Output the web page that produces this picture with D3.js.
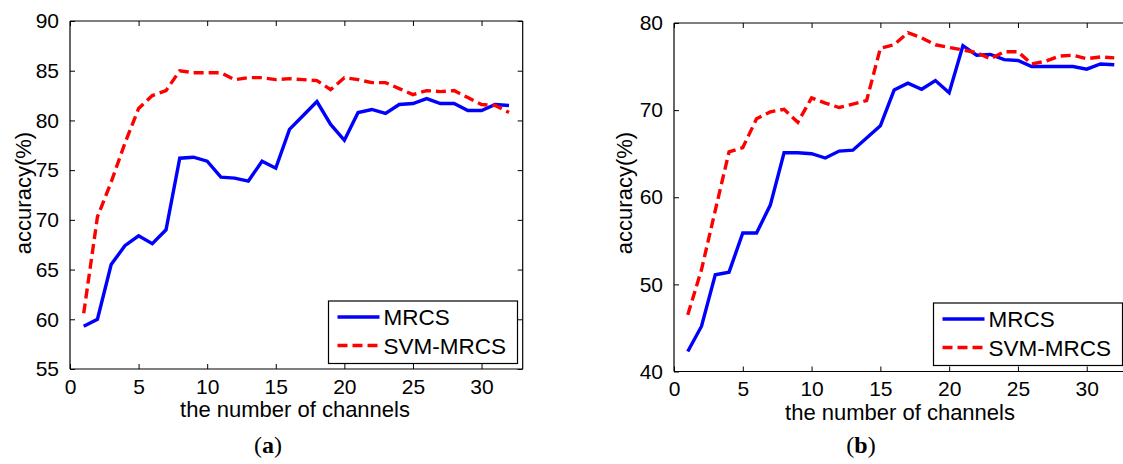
<!DOCTYPE html>
<html>
<head>
<meta charset="utf-8">
<script src="https://cdn.jsdelivr.net/npm/d3@7/dist/d3.min.js"></script>
<style>
  html, body { margin: 0; padding: 0; background: #fff; overflow: hidden; }
  svg { display: block; }
  text { font-family: "Liberation Sans", Arial, sans-serif; fill: #000; }
</style>
</head>
<body>
<svg id="chart" width="1123" height="464"></svg>
<script>
// ---- data ----
const channels = [1,2,3,4,5,6,7,8,9,10,11,12,13,14,15,16,17,18,19,20,21,22,23,24,25,26,27,28,29,30,31,32];
const mrcsA = [59.3,60.0,65.5,67.4,68.4,67.6,69.0,76.2,76.3,75.9,74.3,74.2,73.9,75.9,75.2,79.1,80.5,81.9,79.6,78.0,80.8,81.1,80.7,81.6,81.7,82.2,81.7,81.7,81.0,81.0,81.6,81.5];
const svmA  = [60.6,70.3,73.8,77.7,81.2,82.5,83.0,85.0,84.8,84.8,84.8,84.1,84.3,84.3,84.1,84.2,84.1,84.0,83.1,84.3,84.1,83.8,83.8,83.2,82.6,83.0,82.9,83.0,82.3,81.6,81.5,80.8];
const mrcsB = [42.3,45.2,51.1,51.4,55.9,55.9,59.1,65.1,65.1,65.0,64.5,65.3,65.4,66.8,68.2,72.3,73.1,72.4,73.4,72.0,77.4,76.3,76.4,75.8,75.7,75.0,75.0,75.0,75.0,74.7,75.3,75.2];
const svmB  = [46.5,51.7,58.5,65.2,65.7,69.0,69.8,70.1,68.6,71.4,70.8,70.3,70.7,71.1,77.1,77.5,78.9,78.3,77.5,77.2,76.9,76.6,75.9,76.7,76.7,75.3,75.6,76.2,76.3,75.9,76.1,76.0];
const xTicks = [0,5,10,15,20,25,30];
const yTicksA = [55,60,65,70,75,80,85,90];
const yTicksB = [40,50,60,70,80];
const seriesNames = ["MRCS","SVM-MRCS"];
const xLabel = "the number of channels";
const yLabel = "accuracy(%)";
const captions = ["a","b"];

const svg = d3.select("#chart");

function panel(cfg) {
  const x = d3.scaleLinear().domain([0,33]).range([cfg.left, cfg.right]);
  const y = d3.scaleLinear().domain(cfg.yDomain).range([cfg.bottom, cfg.top]);
  const g = svg.append("g");

  const clipId = "clip" + cfg.id;
  g.append("clipPath").attr("id", clipId).append("rect")
    .attr("x", cfg.left).attr("y", cfg.top)
    .attr("width", cfg.right - cfg.left).attr("height", cfg.bottom - cfg.top);

  const line = d3.line().x((d,i) => x(channels[i])).y(d => y(d));
  g.append("path").datum(cfg.mrcs)
    .attr("d", line).attr("fill","none").attr("stroke","#0000ff")
    .attr("stroke-width",3.4).attr("stroke-linejoin","miter").attr("clip-path",`url(#${clipId})`);
  g.append("path").datum(cfg.svm)
    .attr("d", line).attr("fill","none").attr("stroke","#ff0000")
    .attr("stroke-width",3.4).attr("stroke-dasharray","10,5").attr("clip-path",`url(#${clipId})`);

  const tl = 5;
  const bottomAx = d3.axisBottom(x).tickValues(xTicks).tickSize(-tl).tickPadding(tl + 5);
  const topAx = d3.axisTop(x).tickValues(xTicks).tickSize(-tl).tickFormat("");
  const leftAx = d3.axisLeft(y).tickValues(cfg.yTicks).tickSize(-tl).tickPadding(tl + 6);
  const rightAx = d3.axisRight(y).tickValues(cfg.yTicks).tickSize(-tl).tickFormat("");

  const gb = g.append("g").attr("transform",`translate(0,${cfg.bottom})`).call(bottomAx);
  const gt = g.append("g").attr("transform",`translate(0,${cfg.top})`).call(topAx);
  const gl = g.append("g").attr("transform",`translate(${cfg.left},0)`).call(leftAx);
  const gr = g.append("g").attr("transform",`translate(${cfg.right},0)`).call(rightAx);
  [gb,gt,gl,gr].forEach(a => {
    a.select(".domain").attr("stroke","#000").attr("stroke-width",1.2);
    a.selectAll(".tick line").attr("stroke","#000").attr("stroke-width",1);
    a.selectAll("text").attr("font-size",21).attr("font-family","Liberation Sans, Arial, sans-serif").attr("fill","#000");
  });
  gb.selectAll(".domain").attr("d", `M${cfg.left},0H${cfg.right}`);
  gt.selectAll(".domain").attr("d", `M${cfg.left},0H${cfg.right}`);
  gl.selectAll(".domain").attr("d", `M0,${cfg.top}V${cfg.bottom}`);
  gr.selectAll(".domain").attr("d", `M0,${cfg.top}V${cfg.bottom}`);

  g.append("text").attr("x", cfg.xLabelX).attr("y", cfg.bottom + 48)
    .attr("text-anchor","middle").attr("font-size",22).text(xLabel);
  g.append("text").attr("transform",`translate(${cfg.yLabelX},${cfg.yLabelY}) rotate(-90)`)
    .attr("text-anchor","middle").attr("font-size",22).text(yLabel);

  const L = cfg.legend;
  g.append("rect").attr("x",L.x).attr("y",L.y).attr("width",L.w).attr("height",L.h)
    .attr("fill","#fff").attr("stroke","#000").attr("stroke-width",1.2);
  const rows = [
    {name: seriesNames[0], color:"#0000ff", dash:null},
    {name: seriesNames[1], color:"#ff0000", dash:"10,5"}
  ];
  rows.forEach((r,i) => {
    const yy = L.y + 16 + i*28.5;
    g.append("line").attr("x1",L.x+9).attr("x2",L.x+51).attr("y1",yy).attr("y2",yy)
      .attr("stroke",r.color).attr("stroke-width",3.4).attr("stroke-dasharray",r.dash);
    g.append("text").attr("x",L.x+55).attr("y",yy+8).attr("font-size",22.5).text(r.name);
  });

  const cap = g.append("text").attr("x",cfg.capX).attr("y",453).attr("text-anchor","middle")
    .attr("font-size",24).style("font-family","'Liberation Serif', 'DejaVu Serif', serif");
  cap.append("tspan").text("(");
  cap.append("tspan").attr("font-weight","bold").text(cfg.caption);
  cap.append("tspan").text(")");
}

panel({id:"a", left:70, right:522.7, top:21, bottom:369, yDomain:[55,90], yTicks:yTicksA,
  mrcs:mrcsA, svm:svmA, xLabelX:295, yLabelX:31, yLabelY:193,
  legend:{x:328.5, y:301, w:189, h:62.5}, capX:268, caption:captions[0]});
panel({id:"b", left:674, right:1128, top:23, bottom:371.5, yDomain:[40,80], yTicks:yTicksB,
  mrcs:mrcsB, svm:svmB, xLabelX:900, yLabelX:632, yLabelY:193,
  legend:{x:933.5, y:303, w:189, h:62.5}, capX:861, caption:captions[1]});
</script>
</body>
</html>
